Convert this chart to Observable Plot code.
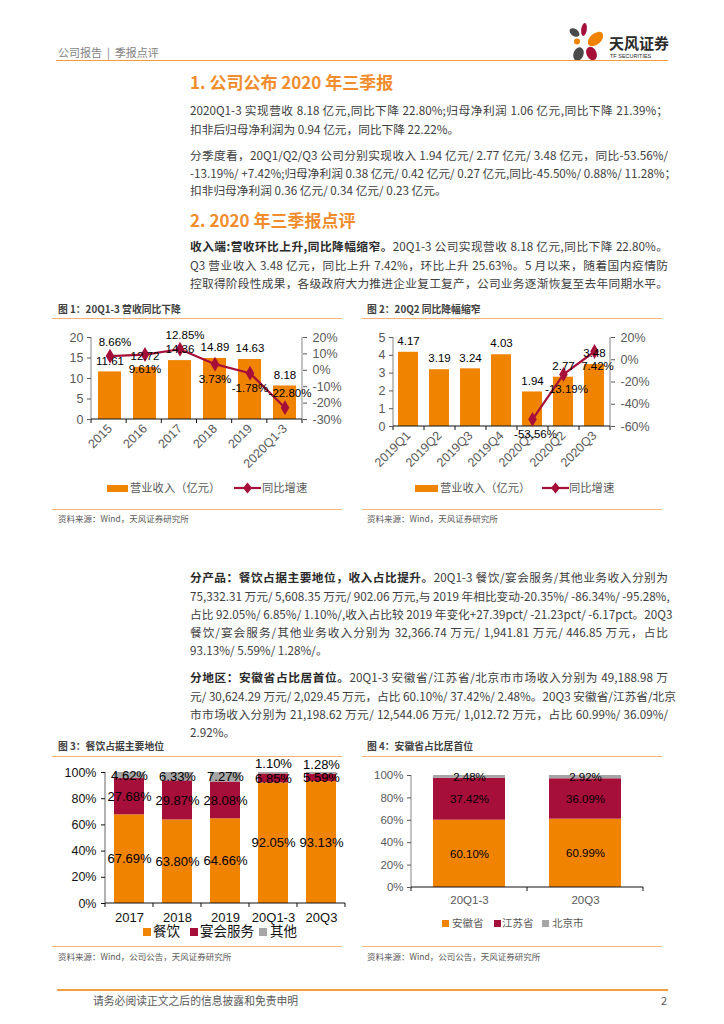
<!DOCTYPE html>
<html><head><meta charset="utf-8">
<script src="https://cdn.jsdelivr.net/npm/d3@7"></script>
<script src="https://cdn.jsdelivr.net/npm/@observablehq/plot@0.6"></script>
<style>
html,body{margin:0;padding:0;background:#fff;}
#page{position:relative;width:724px;height:1024px;overflow:hidden;background:#fff;font-family:'Noto Sans CJK SC','Liberation Sans',sans-serif;}
.t{position:absolute;left:190px;width:478px;height:18px;line-height:18px;font-size:11.7px;color:#404040;text-align:justify;text-align-last:justify;white-space:nowrap;}
.t.last{text-align-last:left;}
.b{font-weight:700;color:#2b2b2b;}
.h{position:absolute;left:190px;font-size:17px;font-weight:700;color:#F18D2C;line-height:22px;white-space:nowrap;}
.ct{position:absolute;font-size:9.8px;font-weight:700;color:#404040;line-height:12px;white-space:nowrap;}
.src{position:absolute;font-size:8.5px;color:#595959;line-height:11px;white-space:nowrap;}
.rule{position:absolute;height:0;border-top:1.5px solid #F6B07A;}
.lg{position:absolute;white-space:nowrap;font-family:'Liberation Sans','Noto Sans CJK SC',sans-serif;}
.sw{position:absolute;}
</style></head><body><div id="page">
<div style="position:absolute;left:58px;top:45px;font-size:11px;line-height:14px;color:#7f7f7f;white-space:nowrap;">公司报告&nbsp;&nbsp;|&nbsp;&nbsp;季报点评</div>
<svg style="position:absolute;left:560px;top:15px;" width="115" height="50" viewBox="0 0 115 50">
  <ellipse cx="14.5" cy="17.5" rx="5.5" ry="3.6" transform="rotate(35 14.5 17.5)" fill="#4a4a4a"/>
  <ellipse cx="24" cy="14.5" rx="2.8" ry="6.5" transform="rotate(8 24 14.5)" fill="#A50F3A"/>
  <ellipse cx="35.5" cy="24" rx="9" ry="5.5" transform="rotate(-40 35.5 24)" fill="#F08300"/>
  <circle cx="17" cy="26.5" r="3" fill="#F08300"/>
  <ellipse cx="18.5" cy="39" rx="5" ry="7" transform="rotate(20 18.5 39)" fill="#4a4a4a"/>
  <ellipse cx="31.5" cy="38.5" rx="5" ry="7" transform="rotate(-25 31.5 38.5)" fill="#A50F3A"/>
  <text x="49" y="34" font-family="'Noto Sans CJK SC',sans-serif" font-weight="700" font-size="15" fill="#2a2a2a">天风证券</text>
  <text x="50" y="42.5" font-family="'Liberation Sans',sans-serif" font-size="5.5" fill="#2a2a2a">TF SECURITIES</text>
</svg>
<div style="position:absolute;left:56px;top:60px;width:612px;height:0;border-top:1.5px solid #F39B3E;"></div>

<div class="h" style="top:71px;">1. 公司公布 2020 年三季报</div>
<div class="t" style="top:101px;">2020Q1-3 实现营收 8.18 亿元,同比下降 22.80%;归母净利润 1.06 亿元,同比下降 21.39%；</div>
<div class="t last" style="top:119.5px;">扣非后归母净利润为 0.94 亿元，同比下降 22.22%。</div>
<div class="t" style="top:146px;">分季度看，20Q1/Q2/Q3 公司分别实现收入 1.94 亿元/ 2.77 亿元/ 3.48 亿元，同比-53.56%/</div>
<div class="t" style="top:163.5px;">-13.19%/ +7.42%;归母净利润 0.38 亿元/ 0.42 亿元/ 0.27 亿元,同比-45.50%/ 0.88%/ 11.28%；</div>
<div class="t last" style="top:181px;">扣非归母净利润 0.36 亿元/ 0.34 亿元/ 0.23 亿元。</div>
<div class="h" style="top:209px;">2. 2020 年三季报点评</div>
<div class="t" style="top:237px;"><span class="b">收入端:营收环比上升,同比降幅缩窄。</span>20Q1-3 公司实现营收 8.18 亿元,同比下降 22.80%。</div>
<div class="t" style="top:255.5px;">Q3 营业收入 3.48 亿元，同比上升 7.42%，环比上升 25.63%。5 月以来，随着国内疫情防</div>
<div class="t" style="top:274px;">控取得阶段性成果，各级政府大力推进企业复工复产，公司业务逐渐恢复至去年同期水平。</div>

<div class="ct" style="left:58px;top:303px;">图 1：20Q1-3 营收同比下降</div>
<div class="rule" style="left:52px;top:318px;width:290px;"></div>
<div class="ct" style="left:367px;top:303px;">图 2：20Q2 同比降幅缩窄</div>
<div class="rule" style="left:362px;top:318px;width:300px;"></div>
<div class="rule" style="left:52px;top:509px;width:290px;"></div>
<div class="src" style="left:58px;top:512.5px;">资料来源：Wind，天风证券研究所</div>
<div class="rule" style="left:362px;top:509px;width:300px;"></div>
<div class="src" style="left:367px;top:512.5px;">资料来源：Wind，天风证券研究所</div>

<div class="t" style="top:568px;"><span class="b">分产品：餐饮占据主要地位，收入占比提升。</span>20Q1-3 餐饮/宴会服务/其他业务收入分别为</div>
<div class="t" style="top:586.5px;">75,332.31 万元/ 5,608.35 万元/ 902.06 万元,与 2019 年相比变动-20.35%/ -86.34%/ -95.28%,</div>
<div class="t" style="top:605px;">占比 92.05%/ 6.85%/ 1.10%/,收入占比较 2019 年变化+27.39pct/ -21.23pct/ -6.17pct。20Q3</div>
<div class="t" style="top:623px;">餐饮/宴会服务/其他业务收入分别为 32,366.74 万元/ 1,941.81 万元/ 446.85 万元，占比</div>
<div class="t last" style="top:641px;">93.13%/ 5.59%/ 1.28%/。</div>
<div class="t" style="top:668px;"><span class="b">分地区：安徽省占比居首位。</span>20Q1-3 安徽省/江苏省/北京市市场收入分别为 49,188.98 万</div>
<div class="t" style="top:686.5px;">元/ 30,624.29 万元/ 2,029.45 万元，占比 60.10%/ 37.42%/ 2.48%。20Q3 安徽省/江苏省/北京</div>
<div class="t" style="top:705px;">市市场收入分别为 21,198.62 万元/ 12,544.06 万元/ 1,012.72 万元，占比 60.99%/ 36.09%/</div>
<div class="t last" style="top:722.5px;">2.92%。</div>

<div class="ct" style="left:58px;top:740px;">图 3：餐饮占据主要地位</div>
<div class="rule" style="left:52px;top:756px;width:290px;"></div>
<div class="ct" style="left:367px;top:740px;">图 4：安徽省占比居首位</div>
<div class="rule" style="left:362px;top:756px;width:300px;"></div>
<div class="rule" style="left:52px;top:946px;width:290px;"></div>
<div class="src" style="left:58px;top:950.5px;">资料来源：Wind，公司公告，天风证券研究所</div>
<div class="rule" style="left:362px;top:946px;width:300px;"></div>
<div class="src" style="left:367px;top:950.5px;">资料来源：Wind，公司公告，天风证券研究所</div>

<div style="position:absolute;left:57px;top:989px;width:611px;height:2px;background:#F0A040;"></div>
<div style="position:absolute;left:93px;top:993px;font-size:10.8px;line-height:14px;color:#595959;white-space:nowrap;">请务必阅读正文之后的信息披露和免责申明</div>
<div style="position:absolute;left:661px;top:993px;font-size:11px;line-height:14px;color:#595959;">2</div>
</div>
<script>
// ---------- data ----------
const years1 = ["2015", "2016", "2017", "2018", "2019", "2020Q1-3"];
const revenue1 = [11.61, 12.72, 14.36, 14.89, 14.63, 8.18];
const growth1 = [8.66, 9.61, 12.85, 3.73, -1.78, -22.80];
const growthLabelAbove1 = [true, false, true, false, false, true];
const revTicks1 = [0, 5, 10, 15, 20];
const growthTicks1 = [-30, -20, -10, 0, 10, 20];

const quarters2 = ["2019Q1", "2019Q2", "2019Q3", "2019Q4", "2020Q1", "2020Q2", "2020Q3"];
const revenue2 = [4.17, 3.19, 3.24, 4.03, 1.94, 2.77, 3.48];
const growth2 = [null, null, null, null, -53.56, -13.19, 7.42];
const revTicks2 = [0, 1, 2, 3, 4, 5];
const growthTicks2 = [-60, -40, -20, 0, 20];

const years3 = ["2017", "2018", "2019", "20Q1-3", "20Q3"];
const series3 = ["餐饮", "宴会服务", "其他"];
const catering3 = [67.69, 63.80, 64.66, 92.05, 93.13];
const banquet3 = [27.68, 29.87, 28.08, 6.85, 5.59];
const other3 = [4.62, 6.33, 7.27, 1.10, 1.28];

const periods4 = ["20Q1-3", "20Q3"];
const series4 = ["安徽省", "江苏省", "北京市"];
const anhui4 = [60.10, 60.99];
const jiangsu4 = [37.42, 36.09];
const beijing4 = [2.48, 2.92];
const pctTicks = [0, 20, 40, 60, 80, 100];

// ---------- style ----------
const FONT = "'Liberation Sans', Arial, 'Noto Sans CJK SC', sans-serif";
const ORANGE = "#F08300";
const CRIMSON = "#A50F3A";
const GRAY = "#A6A6A6";
const page = document.getElementById("page");

function place(el, left, top) {
  el.style.position = "absolute"; el.style.left = left + "px"; el.style.top = top + "px";
  page.appendChild(el);
}

// Excel-like axis lines: left (and optional right) vertical lines, baseline, category boundary ticks
function excelFrame(n, {right = false, axisColor = "#868686"} = {}) {
  return (index, scales, values, dims) => {
    const {width, height, marginLeft, marginRight, marginTop, marginBottom} = dims;
    const x0 = marginLeft, x1 = width - marginRight, yT = marginTop, yB = height - marginBottom;
    const g = d3.create("svg:g").attr("fill", "none");
    g.append("line").attr("x1", x0).attr("x2", x0).attr("y1", yT).attr("y2", yB).attr("stroke", axisColor);
    if (right) g.append("line").attr("x1", x1).attr("x2", x1).attr("y1", yT).attr("y2", yB).attr("stroke", axisColor);
    g.append("line").attr("x1", x0).attr("x2", x1).attr("y1", yB).attr("y2", yB).attr("stroke", "#111");
    const step = (x1 - x0) / n;
    for (let i = 0; i <= n; i++) {
      g.append("line").attr("x1", x0 + i * step).attr("x2", x0 + i * step).attr("y1", yB).attr("y2", yB + 4).attr("stroke", "#111");
    }
    return g.node();
  };
}

function baseStyle(color) {
  return {background: "transparent", fontFamily: FONT, fontSize: "11px", color, overflow: "visible"};
}

// ---------- chart 1 ----------
{
  const rd = [0, 20], gd = [growthTicks1[0], growthTicks1[growthTicks1.length - 1]];
  const toLeft = g => (g - gd[0]) / (gd[1] - gd[0]) * rd[1];
  const fromLeft = v => v / rd[1] * (gd[1] - gd[0]) + gd[0];
  const data = years1.map((year, i) => ({year, rev: revenue1[i], growth: growth1[i], above: growthLabelAbove1[i]}));
  const p = Plot.plot({
    width: 310, height: 160, marginLeft: 51, marginRight: 48, marginTop: 17, marginBottom: 61,
    style: baseStyle("#595959"),
    x: {domain: years1, paddingInner: 0.35, paddingOuter: 0.175, label: null},
    y: {domain: rd, label: null},
    marks: [
      Plot.barY(data, {x: "year", y: "rev", fill: ORANGE}),
      excelFrame(years1.length, {right: true}),
      Plot.axisY({ticks: revTicks1, tickFormat: d => String(d), tickSize: 4, tickPadding: 4, label: null, fontSize: 12.5}),
      Plot.axisY({anchor: "right", ticks: growthTicks1.map(toLeft), tickFormat: v => Math.round(fromLeft(v)) + "%", tickSize: 4, tickPadding: 6, label: null, fontSize: 12.5}),
      Plot.axisX({tickRotate: -45, tickSize: 0, tickPadding: 7, label: null, fontSize: 12.5}),
      Plot.line(data, {x: "year", y: d => toLeft(d.growth), stroke: CRIMSON, strokeWidth: 2.2}),
      Plot.dot(data, {x: "year", y: d => toLeft(d.growth), symbol: "diamond", fill: CRIMSON, r: 4.5}),
      Plot.text(data, {x: "year", y: "rev", text: d => d.rev.toFixed(2), dy: -11, fill: "#000", fontSize: 11.5}),
      Plot.text(data.filter(d => d.above), {x: "year", y: d => toLeft(d.growth), text: d => d.growth.toFixed(2) + "%", dy: -14, dx: 5, fill: "#000", fontSize: 11.5}),
      Plot.text(data.filter(d => !d.above), {x: "year", y: d => toLeft(d.growth), text: d => d.growth.toFixed(2) + "%", dy: 15, fill: "#000", fontSize: 11.5})
    ]
  });
  place(p, 40, 320);
}

// ---------- chart 2 ----------
{
  const rd = [0, 5], gd = [growthTicks2[0], growthTicks2[growthTicks2.length - 1]];
  const toLeft = g => (g - gd[0]) / (gd[1] - gd[0]) * rd[1];
  const fromLeft = v => v / rd[1] * (gd[1] - gd[0]) + gd[0];
  const data = quarters2.map((q, i) => ({q, rev: revenue2[i], growth: growth2[i]}));
  const gdata = data.filter(d => d.growth != null);
  const p = Plot.plot({
    width: 310, height: 165, marginLeft: 38, marginRight: 55, marginTop: 17, marginBottom: 59,
    style: baseStyle("#595959"),
    x: {domain: quarters2, paddingInner: 0.35, paddingOuter: 0.175, label: null},
    y: {domain: rd, label: null},
    marks: [
      Plot.barY(data, {x: "q", y: "rev", fill: ORANGE}),
      excelFrame(quarters2.length, {right: true}),
      Plot.axisY({ticks: revTicks2, tickFormat: d => String(d), tickSize: 4, tickPadding: 4, label: null, fontSize: 12.5}),
      Plot.axisY({anchor: "right", ticks: growthTicks2.map(toLeft), tickFormat: v => Math.round(fromLeft(v)) + "%", tickSize: 4, tickPadding: 6, label: null, fontSize: 12.5}),
      Plot.axisX({tickRotate: -45, tickSize: 0, tickPadding: 7, label: null, fontSize: 12.5}),
      Plot.line(gdata, {x: "q", y: d => toLeft(d.growth), stroke: CRIMSON, strokeWidth: 2.2}),
      Plot.dot(gdata, {x: "q", y: d => toLeft(d.growth), symbol: "diamond", fill: CRIMSON, r: 4.5}),
      Plot.text(data, {x: "q", y: "rev", text: d => d.rev.toFixed(2), dy: -11, fill: "#000", fontSize: 11.5}),
      Plot.text(gdata, {x: "q", y: d => toLeft(d.growth), text: d => d.growth.toFixed(2) + "%", dy: 15, dx: 3, fill: "#000", fontSize: 11.5})
    ]
  });
  place(p, 355, 320);
}

// ---------- chart 3 ----------
{
  const vals = [catering3, banquet3, other3];
  const seg = [];
  series3.forEach((s, k) => years3.forEach((y, i) => seg.push({year: y, series: s, value: vals[k][i]})));
  // tiny top segments: their labels sit a little above the bar, as in the reference
  const tiny = d => d.series === series3[2] && d.value < 2;
  const p = Plot.plot({
    width: 310, height: 168, marginLeft: 65, marginRight: 5, marginTop: 12, marginBottom: 25,
    style: baseStyle("#111"),
    x: {domain: years3, paddingInner: 0.37, paddingOuter: 0.185, label: null},
    y: {domain: [0, 100], label: null},
    color: {domain: series3, range: [ORANGE, CRIMSON, GRAY]},
    marks: [
      Plot.barY(seg, {x: "year", y: "value", fill: "series"}),
      excelFrame(years3.length, {axisColor: "#666"}),
      Plot.axisY({ticks: pctTicks, tickFormat: d => d + "%", tickSize: 4, tickPadding: 5, label: null, fontSize: 12.5}),
      Plot.axisX({tickSize: 0, tickPadding: 9, label: null, fontSize: 13}),
      Plot.text(seg, Plot.stackY({x: "year", y: "value", z: "series", text: d => tiny(d) ? "" : d.value.toFixed(2) + "%", fill: "#000", fontSize: 13})),
      Plot.text(seg, Plot.stackY({x: "year", y: "value", z: "series", text: d => tiny(d) ? d.value.toFixed(2) + "%" : "", dy: -9, fill: "#000", fontSize: 13}))
    ]
  });
  place(p, 40, 760);
}

// ---------- chart 4 ----------
{
  const vals = [anhui4, jiangsu4, beijing4];
  const seg = [];
  series4.forEach((s, k) => periods4.forEach((y, i) => seg.push({period: y, series: s, value: vals[k][i]})));
  const p = Plot.plot({
    width: 310, height: 150, marginLeft: 56, marginRight: 22, marginTop: 15, marginBottom: 23,
    style: baseStyle("#595959"),
    x: {domain: periods4, paddingInner: 0.38, paddingOuter: 0.19, label: null},
    y: {domain: [0, 100], label: null},
    color: {domain: series4, range: [ORANGE, CRIMSON, GRAY]},
    marks: [
      Plot.barY(seg, {x: "period", y: "value", fill: "series"}),
      excelFrame(periods4.length, {axisColor: "#868686"}),
      Plot.axisY({ticks: pctTicks, tickFormat: d => d + "%", tickSize: 4, tickPadding: 4, label: null, fontSize: 11.5}),
      Plot.axisX({tickSize: 0, tickPadding: 8, label: null, fontSize: 11.5}),
      Plot.text(seg, Plot.stackY({x: "period", y: "value", z: "series", text: d => d.value.toFixed(2) + "%", fill: "#000", fontSize: 11.5}))
    ]
  });
  place(p, 355, 760);
}

// ---------- legends ----------
function swatch(left, top, w, h, color) {
  const d = document.createElement("div"); d.className = "sw";
  d.style.width = w + "px"; d.style.height = h + "px"; d.style.background = color;
  place(d, left, top);
}
function label(left, top, text, size, color, lh = 16) {
  const d = document.createElement("div"); d.className = "lg";
  d.style.fontSize = size + "px"; d.style.lineHeight = lh + "px"; d.style.color = color; d.textContent = text;
  place(d, left, top);
}
function lineKey(left, cy) {
  const ns = "http://www.w3.org/2000/svg";
  const s = document.createElementNS(ns, "svg");
  s.setAttribute("width", 27); s.setAttribute("height", 12);
  s.innerHTML = `<line x1="0" x2="27" y1="6" y2="6" stroke="${CRIMSON}" stroke-width="2.2"/><path d="M13.5,0.5 L18,6 L13.5,11.5 L9,6 Z" fill="${CRIMSON}"/>`;
  s.style.position = "absolute"; s.style.left = left + "px"; s.style.top = (cy - 6) + "px";
  page.appendChild(s);
}
// chart 1 & 2 legends
swatch(107, 484.5, 21, 7, ORANGE); label(130, 480, "营业收入（亿元）", 11.3, "#595959");
lineKey(234, 488); label(262, 480, "同比增速", 11.3, "#595959");
swatch(415, 484.5, 23, 7, ORANGE); label(440, 480, "营业收入（亿元）", 11.3, "#595959");
lineKey(542, 488); label(569, 480, "同比增速", 11.3, "#595959");
// chart 3 legend
const c3 = [ORANGE, CRIMSON, GRAY], c3x = [143, 190, 259], c3t = [153, 200, 270];
series3.forEach((s, i) => { swatch(c3x[i], 928, 8, 8, c3[i]); label(c3t[i], 925, s, 13.5, "#111", 14); });
// chart 4 legend
const c4x = [441.5, 493.5, 541.5], c4t = [452, 502, 552];
series4.forEach((s, i) => { swatch(c4x[i], 919.5, 7, 7, c3[i]); label(c4t[i], 915, s, 10.5, "#595959"); });
</script></body></html>
